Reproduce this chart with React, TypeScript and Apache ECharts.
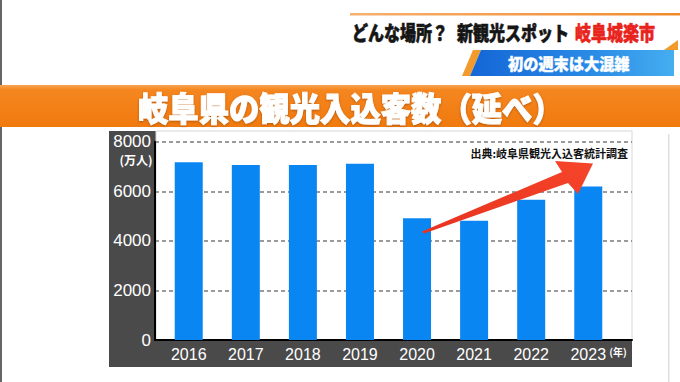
import React, { useEffect, useRef } from 'react';
import * as echarts from 'echarts';

// ---- data ----
const years: string[] = ['2016', '2017', '2018', '2019', '2020', '2021', '2022', '2023'];
const visitors: number[] = [7170, 7060, 7060, 7110, 4910, 4810, 5660, 6190]; // 万人
const yMin = 0;
const yMax = 8000;
const yStep = 2000;

const headerLeft = 'どんな場所？';
const headerMid = '新観光スポット';
const headerRed = '岐阜城楽市';
const subBanner = '初の週末は大混雑';
const mainTitle = '岐阜県の観光入込客数（延べ）';
const sourceNote = '出典:岐阜県観光入込客統計調査';
const yUnit = '(万人)';
const xUnit = '(年)';

const JP = "'Noto Sans CJK JP', 'Noto Sans', sans-serif";
const NUM = "'Liberation Sans', Arial, sans-serif";
const NARROW = "'Liberation Sans Narrow', 'Arial Narrow', 'Liberation Sans', sans-serif";

export default function App() {
  const ref = useRef<HTMLDivElement>(null);

  useEffect(() => {
    if (!ref.current) return;
    const chart = echarts.init(ref.current, undefined, { renderer: 'svg' });

    const option: any = {
      animation: false,
      backgroundColor: '#ffffff',
      grid: [
        { left: 160.2, top: 141.7, width: 456.6, height: 198.3 },
        { left: 155, top: 141.7, width: 477, height: 198.3 },
      ],
      xAxis: [
        {
          type: 'category',
          gridIndex: 0,
          data: years,
          axisLine: { show: false },
          axisTick: { show: false },
          splitLine: { show: false },
          axisLabel: { color: '#ffffff', fontSize: 16, fontFamily: NARROW, margin: 6 },
        },
        {
          type: 'value',
          gridIndex: 1,
          min: 0,
          max: 1,
          axisLine: { show: true, lineStyle: { color: '#000000', width: 2 } },
          axisTick: { show: false },
          axisLabel: { show: false },
          splitLine: { show: false },
        },
      ],
      yAxis: [
        { type: 'value', gridIndex: 0, min: yMin, max: yMax, show: false },
        {
          type: 'value',
          gridIndex: 1,
          min: yMin,
          max: yMax,
          interval: yStep,
          axisLine: { show: true, lineStyle: { color: '#000000', width: 2 } },
          axisTick: { show: false },
          axisLabel: {
            color: '#ffffff', fontSize: 17, fontFamily: NUM, margin: 4,
            formatter: (v: number) => String(v),
          },
          splitLine: { show: true, lineStyle: { color: '#7a7a7a', width: 1.5, type: [4, 3] } },
        },
      ],
      series: [
        {
          type: 'bar',
          xAxisIndex: 0,
          yAxisIndex: 0,
          data: visitors,
          barWidth: 28,
          itemStyle: { color: '#0a86f3' },
        },
        { type: 'line', xAxisIndex: 1, yAxisIndex: 1, data: [] },
      ],
      graphic: [
        // left edge dark line
        { type: 'rect', z: -10, shape: { x: 0, y: 0, width: 2, height: 382 }, style: { fill: '#666' } },
        // top orange thin line
        {
          type: 'rect', z: -10, shape: { x: 350, y: 13, width: 330, height: 2.5 },
          style: {
            fill: new echarts.graphic.LinearGradient(0, 0, 1, 0, [
              { offset: 0, color: '#f6b070' },
              { offset: 1, color: '#f08a2a' },
            ]),
          },
        },
        // header texts
        {
          type: 'text', z: 50, x: 352, y: 32, scaleX: 0.8,
          style: { text: headerLeft, fill: '#151515', font: `900 20px ${JP}`, verticalAlign: 'middle', stroke: '#151515', lineWidth: 0.6 },
        },
        {
          type: 'text', z: 50, x: 457, y: 32, scaleX: 0.8,
          style: { text: headerMid, fill: '#151515', font: `900 20px ${JP}`, verticalAlign: 'middle', stroke: '#151515', lineWidth: 0.6 },
        },
        {
          type: 'text', z: 50, x: 575, y: 32, scaleX: 0.8,
          style: { text: headerRed, fill: '#e8231b', font: `900 20px ${JP}`, verticalAlign: 'middle', stroke: '#e8231b', lineWidth: 0.6 },
        },
        // sub banner
        {
          type: 'polygon', z: -9,
          shape: { points: [[462, 76], [473, 50], [481, 50], [470, 76]] },
          style: { fill: '#f39a2c' },
        },
        {
          type: 'polygon', z: -9,
          shape: { points: [[470, 76], [481, 50], [674, 50], [674, 76]] },
          style: {
            fill: new echarts.graphic.LinearGradient(0, 0, 1, 0, [
              { offset: 0, color: '#1466d6' },
              { offset: 0.6, color: '#2a8be6' },
              { offset: 1, color: '#45aef0' },
            ]),
          },
        },
        {
          type: 'polygon', z: -9,
          shape: { points: [[664, 50], [678, 40], [678, 50]] },
          style: { fill: '#f39a2c' },
        },
        {
          type: 'text', z: 50, x: 508, y: 63, scaleX: 0.95,
          style: { text: subBanner, fill: '#ffffff', font: `900 16px ${JP}`, verticalAlign: 'middle', stroke: '#ffffff', lineWidth: 0.4 },
        },
        // orange title band
        {
          type: 'rect', z: -9, shape: { x: 0, y: 85, width: 680, height: 42 },
          style: {
            fill: new echarts.graphic.LinearGradient(0, 0, 0, 1, [
              { offset: 0, color: '#f9a450' },
              { offset: 0.12, color: '#f5861f' },
              { offset: 1, color: '#f07a0e' },
            ]),
          },
        },
        {
          type: 'text', z: 50, x: 138, y: 106, scaleX: 0.92,
          style: {
            text: mainTitle, fill: '#ffffff', font: `900 33px ${JP}`, verticalAlign: 'middle',
            stroke: '#ffffff', lineWidth: 1,
            textShadowColor: 'rgba(120,50,0,0.5)', textShadowBlur: 2, textShadowOffsetY: 1,
          },
        },
        // chart panel
        { type: 'rect', z: -8, shape: { x: 109, y: 131, width: 523, height: 236 }, style: { fill: '#4a4a4a' } },
        {
          type: 'rect', z: -7, shape: { x: 156, y: 131, width: 476, height: 209 },
          style: { fill: '#ffffff', stroke: '#d6d6d6', lineWidth: 1 },
        },
        // faint right separator
        { type: 'rect', z: -8, shape: { x: 668, y: 134, width: 1.5, height: 248 }, style: { fill: '#dedede' } },
        // unit labels
        {
          type: 'text', z: 50, x: 136, y: 159,
          style: { text: yUnit, fill: '#ffffff', font: `bold 12px ${JP}`, align: 'center', verticalAlign: 'middle' },
        },
        {
          type: 'text', z: 50, x: 618, y: 351,
          style: { text: xUnit, fill: '#ffffff', font: `bold 10px ${JP}`, align: 'center', verticalAlign: 'middle' },
        },
        // source note
        {
          type: 'text', z: 50, x: 628, y: 153,
          style: { text: sourceNote, fill: '#111111', font: `bold 11px ${JP}`, align: 'right', verticalAlign: 'middle' },
        },
        // red arrow annotation
        {
          type: 'polygon', z: 60,
          shape: {
            points: [[422, 231.5], [562, 172], [555, 161], [593, 163.5], [578, 194], [568, 183], [424, 233.5]],
          },
          style: {
            fill: new echarts.graphic.LinearGradient(0, 1, 1, 0, [
              { offset: 0, color: '#e8331f' },
              { offset: 1, color: '#f5452a' },
            ]),
          },
        },
      ],
    };

    chart.setOption(option);
    return () => chart.dispose();
  }, []);

  return (
    <div
      ref={ref}
      style={{ position: 'absolute', left: 0, top: 0, width: 680, height: 382 }}
    />
  );
}
